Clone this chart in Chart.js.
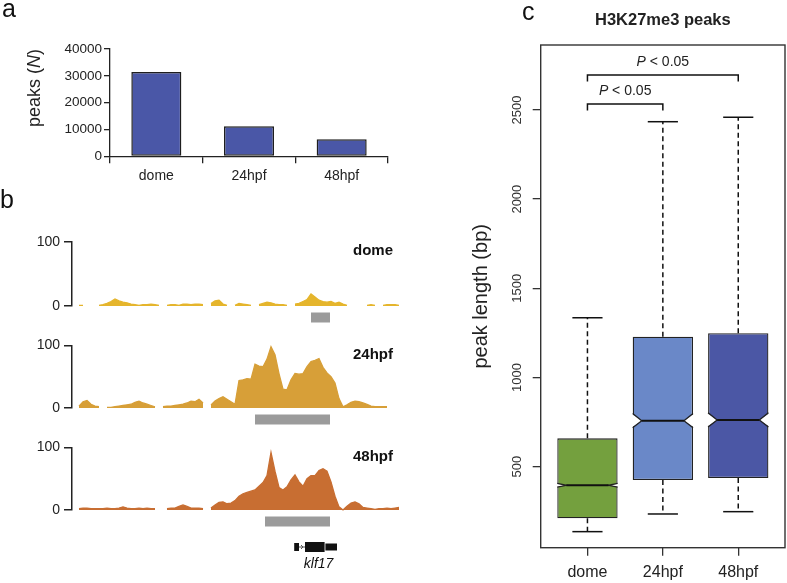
<!DOCTYPE html>
<html><head><meta charset="utf-8">
<script src="https://cdn.jsdelivr.net/npm/chart.js@4.4.1/dist/chart.umd.min.js"></script>
<style>
html,body{margin:0;padding:0;background:#fff;}
#wrap{position:relative;width:787px;height:583px;overflow:hidden;background:#fff;}
canvas{position:absolute;}
</style></head><body>
<div id="wrap">
<canvas id="ca" width="420" height="190" style="left:0px;top:0px"></canvas>
<canvas id="cb1" width="420" height="145" style="left:0px;top:185px"></canvas>
<canvas id="cb2" width="420" height="100" style="left:0px;top:333px"></canvas>
<canvas id="cb3" width="420" height="148" style="left:0px;top:435px"></canvas>
<canvas id="cc" width="347" height="583" style="left:440px;top:0px"></canvas>
</div>
<script>
const FONT = "'Liberation Sans', Arial, Helvetica, sans-serif";
Chart.defaults.font.family = FONT;
Chart.defaults.color = '#222';
Chart.defaults.animation = false;

// ---------- Panel a data ----------
const stageLabels = ['dome', '24hpf', '48hpf'];
const peakCounts = [31400, 11200, 6400];
const countTicks = [0, 10000, 20000, 30000, 40000];

// ---------- Panel b data (coverage per bin) ----------
const trackNames = ['dome', '24hpf', '48hpf'];
const covDome = [1,1,null,null,null,1,2,4,7,11, 8,6,5,3,2,1,2,2,3,2,
  1,null,1,2,2,1,3,3,2,3, 3,2,null,4,8,9,3,1,null,1,
  4,3,2,1,null,2,4,6,5,3, 2,2,1,null,3,4,7,10,19,14,
  9,7,6,7,4,6,3,1,null,null, null,null,1,2,1,null,1,2,2,2, 1];
const cov24 = [3,10,12,6,3,2,null,1,1,2, 3,4,5,6,9,11,8,6,4,2,
  null,2,3,3,4,5,6,8,11,10, 14,8,null,5,11,15,18,14,10,6,
  44,45,47,46,70,67,66,78,98,85, 55,30,29,45,55,54,55,66,74,76,
  79,65,56,50,40,15,2,5,9,11, 10,8,6,3,2,2,2,2,null,null,4];
const cov48 = [2,3,3,2,2,2,2,3,2,2, 3,5,3,2,2,3,2,3,2,2,
  null,null,2,3,3,6,8,6,3,3, 3,2,null,3,8,12,13,10,11,15,
  22,26,28,30,32,38,44,55,92,62, 36,32,37,48,56,45,38,50,55,55,
  63,66,62,45,22,5,0,6,11,13, 10,4,3,2,1,2,2,3,2,3,4];
const covTicks = [0, 100];
const peakRegions = [[58, 62.75], [44, 62.75], [46.5, 62.75]];
const geneName = 'klf17';
const geneExons = [[53.8, 55, 8], [56.5, 61.4, 10], [61.6, 64.5, 7]];
const geneIntron = [55, 56.5];

// ---------- Panel c data ----------
const boxCats = ['dome', '24hpf', '48hpf'];
const boxLowW = [136, 235, 248];
const boxQ1 = [211, 425, 437];
const boxMed = [396, 758, 762];
const boxQ3 = [659, 1229, 1248];
const boxHighW = [1335, 2434, 2459];
const notchHalf = [10, 40, 40];
const boxTicks = [500, 1000, 1500, 2000, 2500];
const sigFrom = [1, 1];
const sigTo = [3, 2];
const sigLevel = [2696, 2533];
const sigText = ['< 0.05', '< 0.05'];

// ---------- helpers ----------
function drawMixed(ctx, parts, cx, cy, size) {
  let total = 0;
  const widths = parts.map(p => { ctx.font = p[1] + size + 'px ' + FONT; const w = ctx.measureText(p[0]).width; total += w; return w; });
  let x = cx - total / 2;
  ctx.textAlign = 'left'; ctx.textBaseline = 'middle';
  parts.forEach((p, i) => { ctx.font = p[1] + size + 'px ' + FONT; ctx.fillText(p[0], x, cy); x += widths[i]; });
}

// ---------- Panel a ----------
new Chart(document.getElementById('ca'), {
  type: 'bar',
  data: { labels: stageLabels, datasets: [{ data: peakCounts, backgroundColor: '#4A57A7', borderColor: '#1e1e1e', borderWidth: 1.5, borderSkipped: false, barPercentage: 0.54, categoryPercentage: 1 }] },
  options: {
    responsive: false, animation: false,
    layout: { padding: { top: 49, right: 32, left: 0, bottom: 0 } },
    plugins: { legend: { display: false }, tooltip: { enabled: false } },
    scales: {
      x: { grid: { display: true, drawOnChartArea: false, tickLength: 7, color: '#222', lineWidth: 1.3, offset: true },
           border: { display: true, color: '#222', width: 1.3 },
           ticks: { font: { size: 14 }, color: '#222', padding: 4 },
           afterFit: s => { s.height = 33.7; } },
      y: { min: 0, max: 40000,
           afterBuildTicks: s => { s.ticks = countTicks.map(v => ({ value: v })); },
           grid: { drawOnChartArea: false, tickLength: 6, color: '#222', lineWidth: 1.3 },
           border: { color: '#222', width: 1.3 },
           ticks: { font: { size: 13.5 }, color: '#222', padding: 2, callback: v => String(v) },
           afterFit: s => { s.width = 110; } }
    }
  },
  plugins: [{ id: 'annA', afterDraw(chart) {
    const ctx = chart.ctx; ctx.save(); ctx.fillStyle = '#111';
    ctx.font = '25px ' + FONT; ctx.textAlign = 'left'; ctx.textBaseline = 'alphabetic';
    ctx.fillText('a', 2, 17);
    ctx.translate(35, 88); ctx.rotate(-Math.PI / 2); ctx.fillStyle = '#222';
    drawMixed(ctx, [['peaks (', ''], ['N', 'italic '], [')', '']], 0, 0, 18);
    ctx.restore();
  } }]
});

// ---------- Panel b ----------
function makeTrack(id, idx, values, color, padTop, padBottom, withLetter, withGene) {
  new Chart(document.getElementById(id), {
    type: 'line',
    data: { datasets: [{ data: values.map((v, i) => ({ x: i, y: v })), fill: 'origin', backgroundColor: color, borderColor: color,
      borderWidth: 1.3, pointRadius: 0, spanGaps: false, tension: 0, clip: { left: 0, right: 0, top: 5, bottom: 3 } }] },
    options: {
      responsive: false, animation: false,
      layout: { padding: { top: padTop, right: 18, left: 0, bottom: padBottom } },
      plugins: { legend: { display: false }, tooltip: { enabled: false } },
      scales: {
        x: { type: 'linear', min: -1.75, max: 80.75, display: false },
        y: { min: 0, max: 100,
             afterBuildTicks: s => { s.ticks = covTicks.map(v => ({ value: v })); },
             grid: { drawOnChartArea: false, tickLength: 8, color: '#222', lineWidth: 1.5 },
             border: { color: '#222', width: 1.5 },
             ticks: { font: { size: 14 }, color: '#222', padding: 4 },
             afterFit: s => { s.width = 72; } }
      }
    },
    plugins: [{ id: 'annB' + idx, afterDraw(chart) {
      const ctx = chart.ctx, xs = chart.scales.x, a = chart.chartArea;
      ctx.save();
      const r = peakRegions[idx];
      ctx.fillStyle = '#9b9b9b';
      const x0 = xs.getPixelForValue(r[0]), x1 = xs.getPixelForValue(r[1]);
      ctx.fillRect(x0, a.bottom + 6.5, x1 - x0, 10);
      ctx.fillStyle = '#111'; ctx.font = 'bold 15px ' + FONT; ctx.textAlign = 'left'; ctx.textBaseline = 'middle';
      ctx.fillText(trackNames[idx], a.right - 49, a.top + 9);
      if (withLetter) { ctx.font = '25px ' + FONT; ctx.textBaseline = 'alphabetic'; ctx.fillText('b', 0, 208 - 185); }
      if (withGene) {
        const yc = a.bottom + 37;
        ctx.strokeStyle = '#555'; ctx.lineWidth = 1;
        const i0 = xs.getPixelForValue(geneIntron[0]), i1 = xs.getPixelForValue(geneIntron[1]);
        ctx.beginPath(); ctx.moveTo(i0, yc); ctx.lineTo(i1, yc); ctx.stroke();
        ctx.beginPath(); ctx.moveTo(i0 + 2, yc - 2); ctx.lineTo(i0 + 4, yc); ctx.lineTo(i0 + 2, yc + 2); ctx.stroke();
        ctx.fillStyle = '#111';
        geneExons.forEach(e => {
          const e0 = xs.getPixelForValue(e[0]), e1 = xs.getPixelForValue(e[1]);
          ctx.fillRect(e0, yc - e[2] / 2, e1 - e0, e[2]);
        });
        const gc = (xs.getPixelForValue(geneExons[0][0]) + xs.getPixelForValue(geneExons[2][1])) / 2;
        ctx.font = 'italic 14px ' + FONT; ctx.textAlign = 'center'; ctx.textBaseline = 'middle';
        ctx.fillText(geneName, gc + 3, yc + 17);
      }
      ctx.restore();
    } }]
  });
}
makeTrack('cb1', 0, covDome, '#E5B52C', 57, 24, true, false);
makeTrack('cb2', 1, cov24, '#D79F38', 12, 25, false, false);
makeTrack('cb3', 2, cov48, '#C86E32', 12, 73, false, true);

// ---------- Panel c ----------
const boxColors = ['#74A03E', '#6A88C8', '#4B57A5'];
const boxPlugin = { id: 'boxParts',
  afterDatasetsDraw(chart) {
    const ctx = chart.ctx, ys = chart.scales.y, xs = chart.scales.x;
    const meta = chart.getDatasetMeta(0);
    ctx.save();
    meta.data.forEach((bar, i) => {
      const xc = bar.x, hw = bar.width / 2, x0 = xc - hw, x1 = xc + hw;
      const yMed = ys.getPixelForValue(boxMed[i]);
      const yHi = ys.getPixelForValue(boxMed[i] + notchHalf[i]);
      const yLo = ys.getPixelForValue(boxMed[i] - notchHalf[i]);
      const d = hw * 0.3;
      // notches
      ctx.fillStyle = '#fff';
      ctx.beginPath(); ctx.moveTo(x0 - 1.5, yHi); ctx.lineTo(x0 + d, yMed); ctx.lineTo(x0 - 1.5, yLo); ctx.closePath(); ctx.fill();
      ctx.beginPath(); ctx.moveTo(x1 + 1.5, yHi); ctx.lineTo(x1 - d, yMed); ctx.lineTo(x1 + 1.5, yLo); ctx.closePath(); ctx.fill();
      ctx.strokeStyle = '#222'; ctx.lineWidth = 1.3; ctx.setLineDash([]);
      ctx.beginPath(); ctx.moveTo(x0, yHi); ctx.lineTo(x0 + d, yMed); ctx.lineTo(x0, yLo); ctx.stroke();
      ctx.beginPath(); ctx.moveTo(x1, yHi); ctx.lineTo(x1 - d, yMed); ctx.lineTo(x1, yLo); ctx.stroke();
      // median
      ctx.strokeStyle = '#111'; ctx.lineWidth = 2;
      ctx.beginPath(); ctx.moveTo(x0 + d, yMed); ctx.lineTo(x1 - d, yMed); ctx.stroke();
      // whiskers
      ctx.lineWidth = 1.5; ctx.setLineDash([5, 3.5]);
      ctx.beginPath(); ctx.moveTo(xc, ys.getPixelForValue(boxQ3[i])); ctx.lineTo(xc, ys.getPixelForValue(boxHighW[i])); ctx.stroke();
      ctx.beginPath(); ctx.moveTo(xc, ys.getPixelForValue(boxQ1[i])); ctx.lineTo(xc, ys.getPixelForValue(boxLowW[i])); ctx.stroke();
      ctx.setLineDash([]);
      const c0 = xs.getPixelForValue(i + 1 - 0.2), c1 = xs.getPixelForValue(i + 1 + 0.2);
      [boxHighW[i], boxLowW[i]].forEach(v => { const y = ys.getPixelForValue(v); ctx.beginPath(); ctx.moveTo(c0, y); ctx.lineTo(c1, y); ctx.stroke(); });
    });
    // significance brackets
    ctx.strokeStyle = '#111'; ctx.lineWidth = 1.5; ctx.fillStyle = '#222';
    sigLevel.forEach((lv, k) => {
      const xa = xs.getPixelForValue(sigFrom[k]), xb = xs.getPixelForValue(sigTo[k]);
      const y = ys.getPixelForValue(lv), yd = y + 6.5;
      ctx.beginPath(); ctx.moveTo(xa, yd); ctx.lineTo(xa, y); ctx.lineTo(xb, y); ctx.lineTo(xb, yd); ctx.stroke();
      drawMixed(ctx, [['P', 'italic '], [' ' + sigText[k], '']], (xa + xb) / 2, y - 13, 14);
    });
    ctx.restore();
  },
  afterDraw(chart) {
    const ctx = chart.ctx, a = chart.chartArea;
    ctx.save();
    ctx.strokeStyle = '#333'; ctx.lineWidth = 1.4;
    ctx.strokeRect(a.left, a.top, a.right - a.left, a.bottom - a.top);
    ctx.fillStyle = '#111'; ctx.font = '25px ' + FONT; ctx.textAlign = 'left'; ctx.textBaseline = 'alphabetic';
    ctx.fillText('c', 82, 20);
    ctx.restore();
  }
};

new Chart(document.getElementById('cc'), {
  type: 'bar',
  data: { datasets: [{ data: boxCats.map((c, i) => ({ x: i + 1, y: [boxQ1[i], boxQ3[i]] })),
    backgroundColor: boxColors, borderColor: '#222', borderWidth: 1.3, borderSkipped: false, barPercentage: 0.8, categoryPercentage: 1 }] },
  options: {
    responsive: false, animation: false,
    layout: { padding: { top: 0, right: 2, left: 0, bottom: 0 } },
    plugins: { legend: { display: false }, tooltip: { enabled: false },
      title: { display: true, text: 'H3K27me3 peaks', font: { size: 16.5, weight: 'bold' }, color: '#222', padding: { top: 11, bottom: 14.2 }, fullSize: false } },
    scales: {
      x: { type: 'linear', min: 0.38, max: 3.62, offset: false,
           afterBuildTicks: s => { s.ticks = boxCats.map((c, i) => ({ value: i + 1 })); },
           ticks: { callback: v => boxCats[v - 1], font: { size: 16 }, color: '#222', padding: 7, maxRotation: 0 },
           grid: { drawOnChartArea: false, tickLength: 8, color: '#333', lineWidth: 1.3, offset: false },
           border: { display: false },
           afterFit: s => { s.height = 35.3; } },
      y: { min: 46, max: 2864,
           afterBuildTicks: s => { s.ticks = boxTicks.map(v => ({ value: v })); },
           ticks: { font: { size: 13 }, color: '#333', minRotation: 90, maxRotation: 90, crossAlign: 'center', padding: 1, callback: v => String(v) },
           grid: { drawOnChartArea: false, tickLength: 8, color: '#333', lineWidth: 1.3 },
           border: { display: false },
           title: { display: true, text: 'peak length (bp)', font: { size: 20 }, color: '#222', padding: { top: 29, bottom: 0 } },
           afterFit: s => { s.width = 100.7; } }
    }
  },
  plugins: [boxPlugin]
});
</script>
</body></html>
